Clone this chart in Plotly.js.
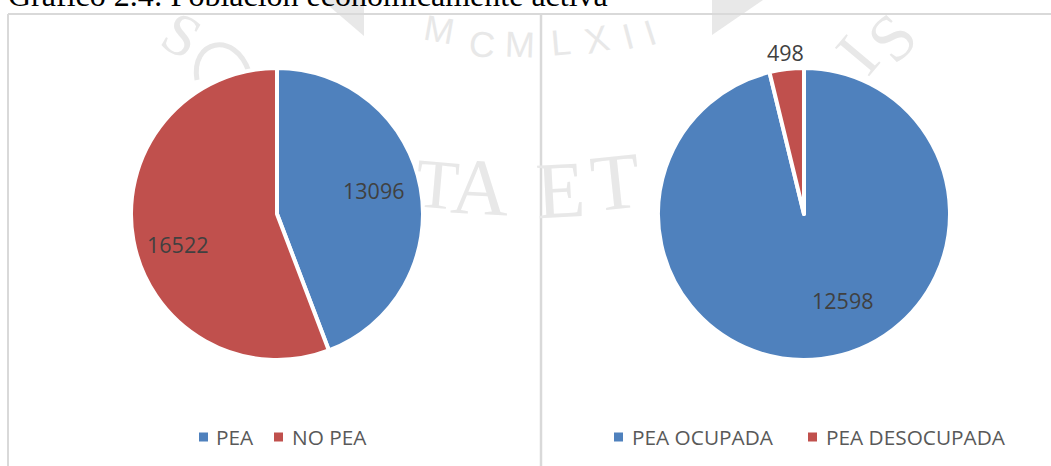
<!DOCTYPE html>
<html><head><meta charset="utf-8">
<script src="https://cdn.plot.ly/plotly-3.0.1.min.js"></script>
<style>html,body{margin:0;padding:0;background:#fff;overflow:hidden}</style></head>
<body><div id="chart" style="width:1051px;height:466px"></div>
<script>
const W = 1051, H = 466;
const titleText = "Gráfico 2.4: Población económicamente activa";
const labelsLeft = ["PEA", "NO PEA"];
const valuesLeft = [13096, 16522];
const labelsRight = ["PEA OCUPADA", "PEA DESOCUPADA"];
const valuesRight = [12598, 498];
const sliceColors = ["#4F81BD", "#C0504D"];
const valueLabelPos = [[373.5,190],[177,245],[842,300],[785,52]];
const legendPos = [[199,216],[274,292],[614,632],[808,826]];
const px = x => x / W, py = y => 1 - y / H;

function pie(labels, values, x0, x1) {
  return {type:"pie", labels, values, sort:false, direction:"clockwise", rotation:0,
    textinfo:"none", hoverinfo:"label+value", showlegend:false,
    marker:{colors:sliceColors, line:{color:"#fff", width:4}},
    domain:{x:[px(x0),px(x1)], y:[py(360),py(68)]}};
}
const allValues = valuesLeft.concat(valuesRight);
const allLabels = labelsLeft.concat(labelsRight);
const font = "'Open Sans', sans-serif";
const ann = [];
const wmColor = "#E8E8E8";
const wm = (text,x,y,size,angle,fam) => ann.push({xref:"paper",yref:"paper",x:px(x),y:py(y),text,showarrow:false,textangle:angle,xanchor:"center",yanchor:"middle",font:{family:fam||"'Liberation Serif',serif",size,color:wmColor}});
// watermark seal lettering
wm("S",181,35,60,30);
[["M",439,30,10],["C",482,45,5],["M",520,44,2],["L",561,43,-5],["X",597,40,-12],["I",628,36,-15],["I",650,32,-18]]
  .forEach(l => wm(l[0],l[1],l[2],36,l[3],"'Liberation Sans',sans-serif"));
wm("T",437,184,70,5);
wm("A",480,187,80,3);
wm("E",560,190,80,-3);
wm("T",615,182,80,-6);
wm("I",857,55,68,-50);
wm("S",892,38,66,-45);
allValues.forEach((v,i) => ann.push({xref:"paper",yref:"paper",x:px(valueLabelPos[i][0]),y:py(valueLabelPos[i][1]),text:String(v),showarrow:false,xanchor:"center",yanchor:"middle",font:{family:font,size:21.5,color:"#404040"}}));
allLabels.forEach((t,i) => ann.push({xref:"paper",yref:"paper",x:px(legendPos[i][1]),y:py(437),text:t,showarrow:false,xanchor:"left",yanchor:"middle",xshift:-2,font:{family:font,size:20.8,color:"#595959"}}));
ann.push({xref:"paper",yref:"paper",x:px(8),y:py(-5),text:titleText,showarrow:false,xanchor:"left",yanchor:"middle",xshift:-2,font:{family:"'Liberation Serif',serif",size:32,color:"#000"}});
const frame = "#D9D9D9";
const shapes = [
 {type:"path",xref:"paper",yref:"paper",layer:"below",fillcolor:wmColor,line:{width:0},path:`M ${px(322)} ${py(0)} L ${px(364)} ${py(0)} L ${px(364)} ${py(36)} Z`},
 {type:"path",xref:"paper",yref:"paper",layer:"below",fillcolor:wmColor,line:{width:0},path:`M ${px(712)} ${py(0)} L ${px(763)} ${py(0)} L ${px(712)} ${py(35)} Z`},
 {type:"path",xref:"paper",yref:"paper",layer:"below",line:{color:wmColor,width:5},path:`M ${px(197)} ${py(80)} C ${px(190)} ${py(40)}, ${px(235)} ${py(30)}, ${px(249)} ${py(72)}`},
 {type:"line",xref:"paper",yref:"paper",x0:px(8),x1:1,y0:py(14),y1:py(14),line:{color:frame,width:2}},
 {type:"line",xref:"paper",yref:"paper",x0:px(8),x1:px(8),y0:py(14),y1:0,line:{color:frame,width:2}},
 {type:"line",xref:"paper",yref:"paper",x0:px(541),x1:px(541),y0:py(14),y1:0,line:{color:frame,width:2.5}}
];
allLabels.forEach((t,i) => shapes.push({type:"rect",xref:"paper",yref:"paper",x0:px(legendPos[i][0]),x1:px(legendPos[i][0]+9),y0:py(441.5),y1:py(432.5),fillcolor:sliceColors[i%2],line:{width:0}}));
Plotly.newPlot("chart",[pie(labelsLeft,valuesLeft,131,423),pie(labelsRight,valuesRight,658,950)],{
  width:W,height:H,margin:{l:0,r:0,t:0,b:0},paper_bgcolor:"#fff",annotations:ann,shapes
},{displayModeBar:false});
</script></body></html>
